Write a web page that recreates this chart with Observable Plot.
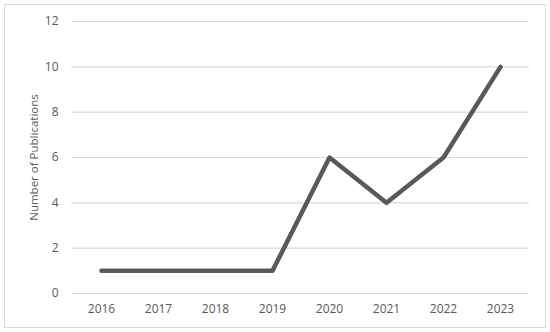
<!DOCTYPE html>
<html><head><meta charset="utf-8">
<script src="https://cdn.jsdelivr.net/npm/d3@7"></script>
<script src="https://cdn.jsdelivr.net/npm/@observablehq/plot@0.6"></script>
<style>
html,body{margin:0;padding:0;background:#fff;}
#wrap{position:relative;width:550px;height:332px;}
#frame{position:absolute;left:4px;top:4px;width:540px;height:322px;border:1px solid #d9d9d9;box-sizing:content-box;}
#chart{position:absolute;left:0;top:0;}
</style></head>
<body><div id="wrap"><div id="frame"></div><div id="chart"></div></div>
<script>
const years = ["2016","2017","2018","2019","2020","2021","2022","2023"];
const publications = [1,1,1,1,6,4,6,10];
const yTicks = [0,2,4,6,8,10,12];
const yLabel = "Number of Publications";

const data = years.map((y,i)=>({year:y, n:publications[i]}));
const chart = Plot.plot({
  width:550, height:332,
  marginLeft:71, marginRight:21, marginTop:21, marginBottom:39,
  style:{fontFamily:"'Open Sans', sans-serif", fontSize:"12px", color:"#595959", background:"transparent"},
  x:{type:"point", domain:years, padding:0.5, label:null},
  y:{domain:[0,12], ticks:yTicks, label:null},
  marks:[
    Plot.gridY(yTicks,{stroke:"#d9d9d9", strokeOpacity:1, strokeWidth:1.2}),
    Plot.axisX({tickSize:0, tickPadding:11, label:null, fill:"#595959", fontSize:12}),
    Plot.axisY(yTicks,{tickSize:0, tickPadding:13, label:null, fill:"#595959", fontSize:12}),
    Plot.text([yLabel],{frameAnchor:"left", textAnchor:"middle", dx:-37, rotate:-90, fill:"#595959", fontSize:11.5}),
    Plot.line(data,{x:"year", y:"n", stroke:"#595959", strokeWidth:4.5, strokeLinecap:"round", strokeLinejoin:"round", style:"filter:drop-shadow(1px 2px 1.5px rgba(0,0,0,0.35))"})
  ]
});
document.getElementById("chart").append(chart);
</script></body></html>
